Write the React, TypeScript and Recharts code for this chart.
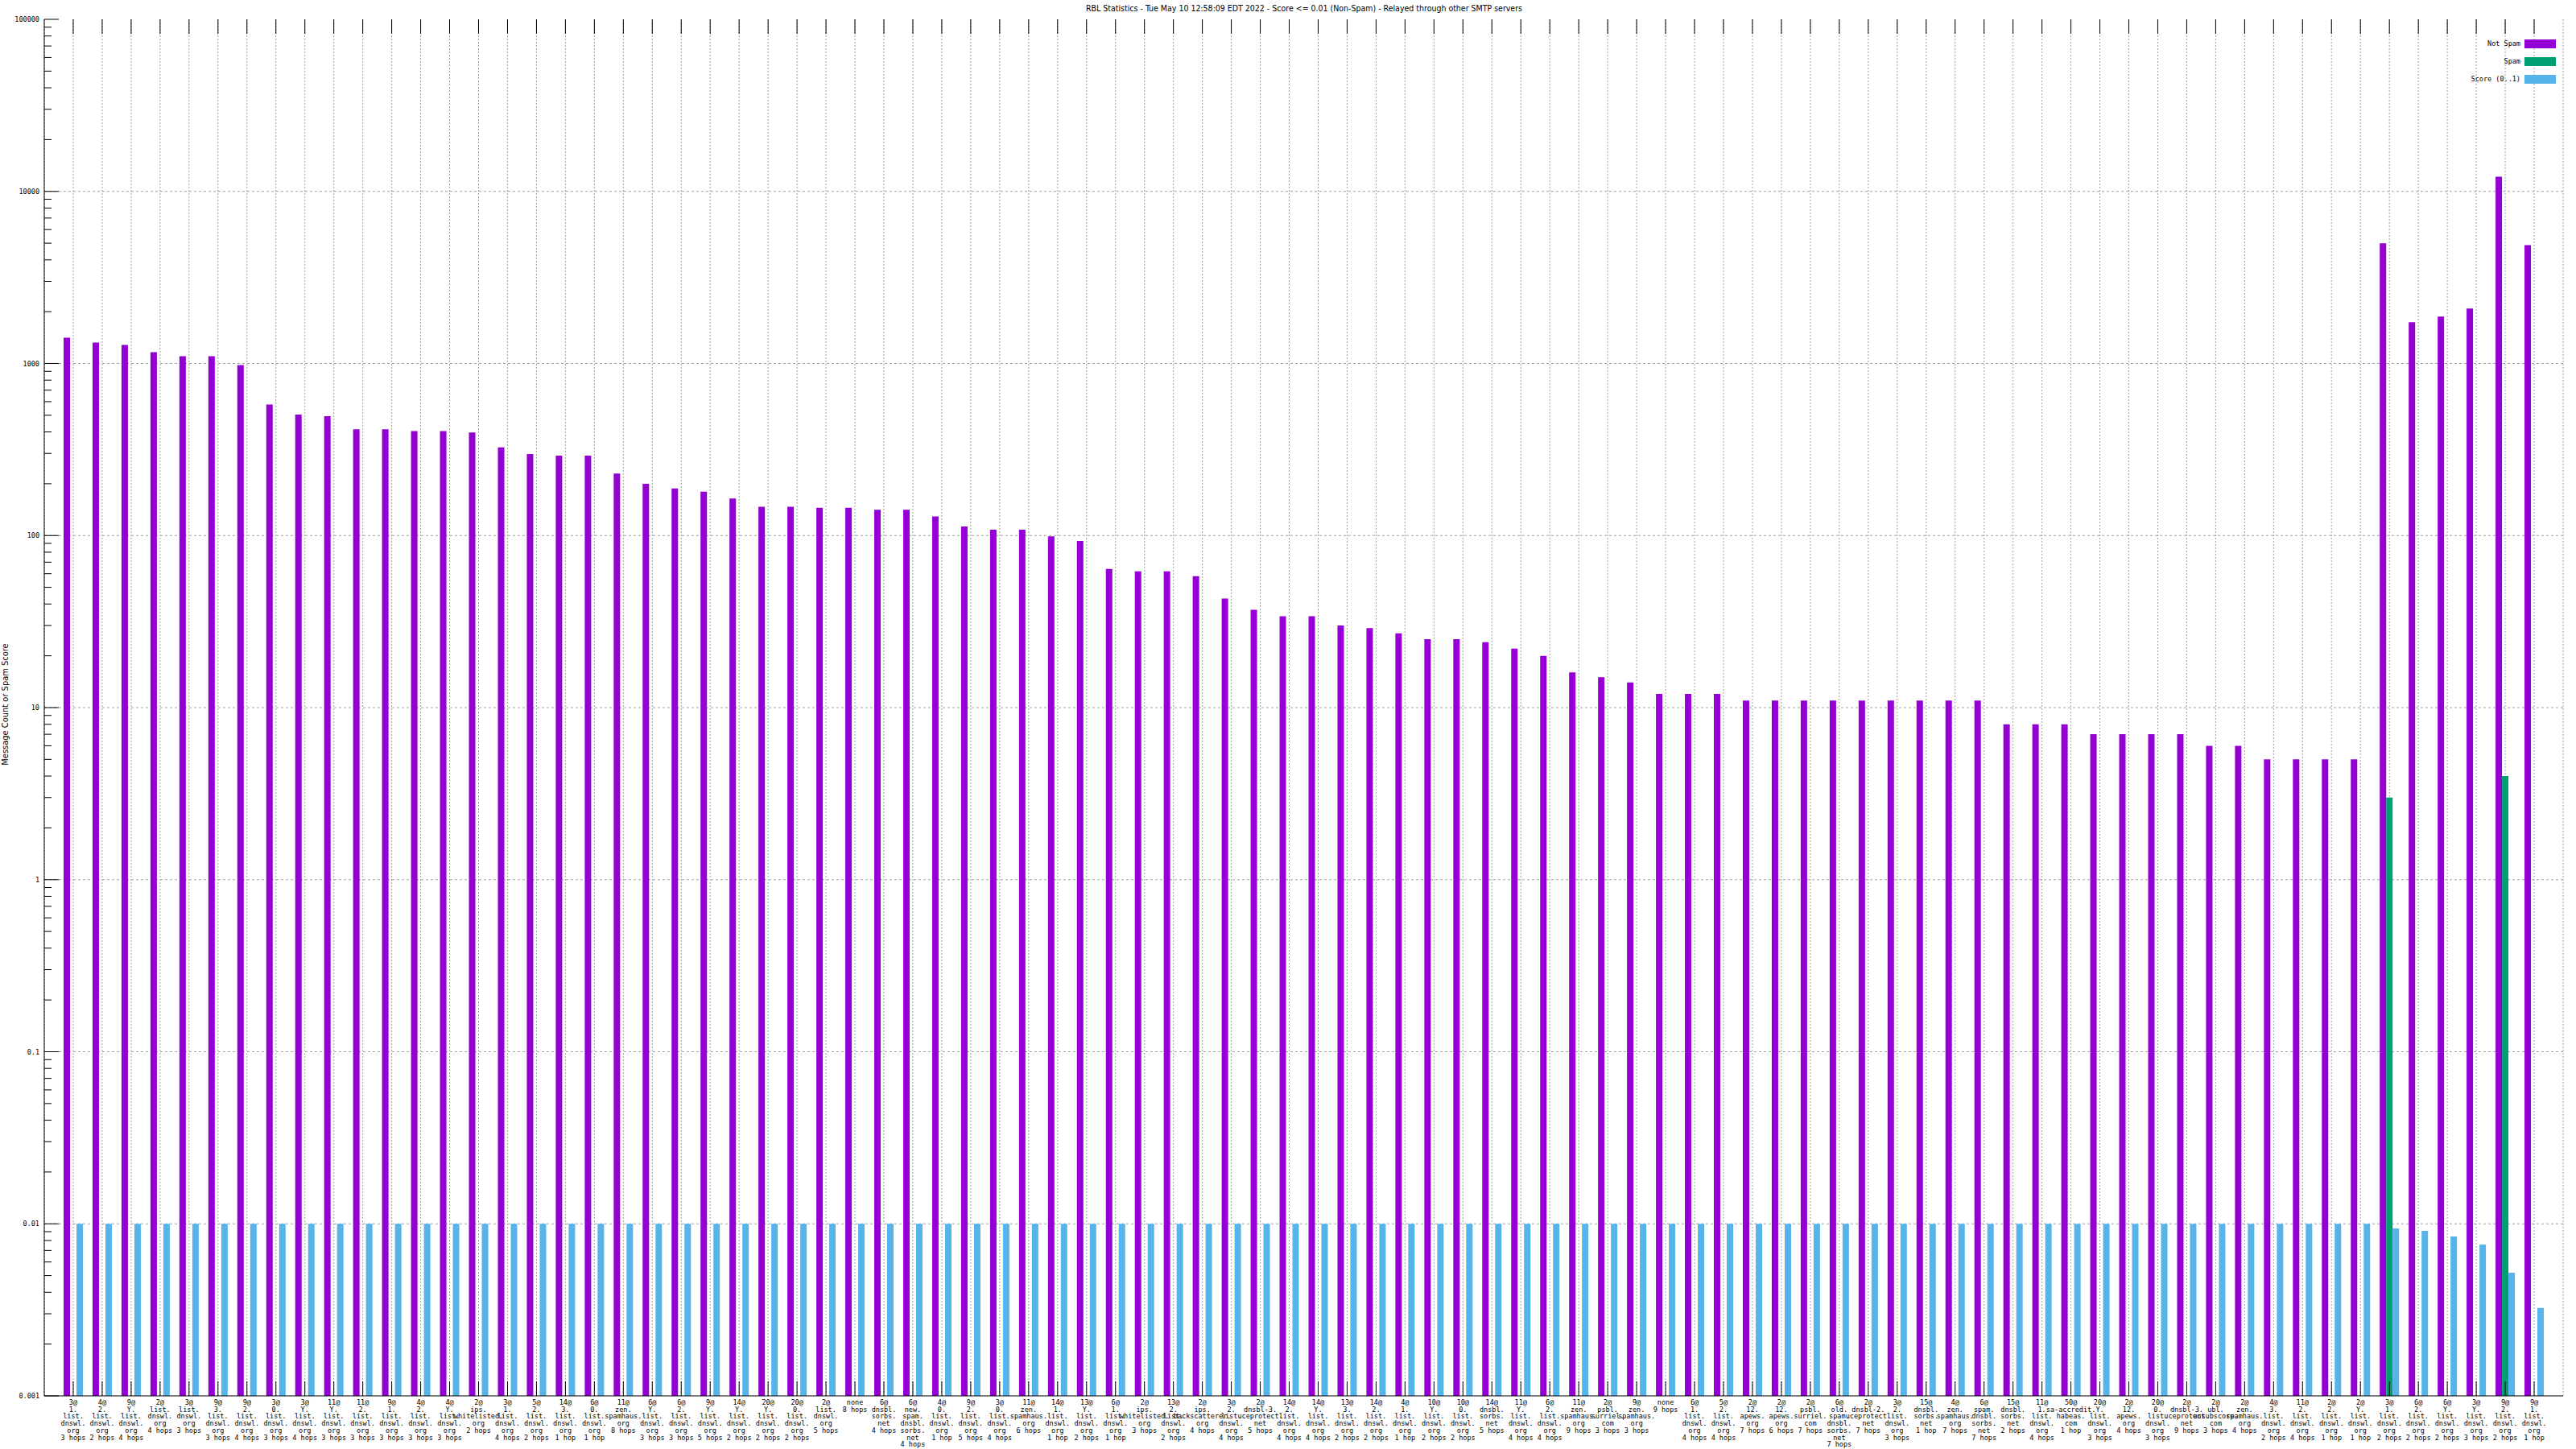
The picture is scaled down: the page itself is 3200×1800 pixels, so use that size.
import { Bar, BarChart, CartesianGrid, XAxis, YAxis, Legend } from 'recharts'

const categories = [
  '3@1.list.dnswl.org 3 hops', '4@2.list.dnswl.org 2 hops', '9@Y.list.dnswl.org 4 hops', '2@list.dnswl.org 4 hops',
  '3@list.dnswl.org 3 hops', '9@3.list.dnswl.org 3 hops', '9@2.list.dnswl.org 4 hops', '3@0.list.dnswl.org 3 hops',
  '3@Y.list.dnswl.org 4 hops', '11@Y.list.dnswl.org 3 hops', '11@2.list.dnswl.org 3 hops', '9@1.list.dnswl.org 3 hops',
  '4@2.list.dnswl.org 3 hops', '4@Y.list.dnswl.org 3 hops', '2@ips.whitelisted.org 2 hops', '3@1.list.dnswl.org 4 hops',
  '5@2.list.dnswl.org 2 hops', '14@3.list.dnswl.org 1 hop', '6@0.list.dnswl.org 1 hop', '11@zen.spamhaus.org 8 hops',
  '6@Y.list.dnswl.org 3 hops', '6@2.list.dnswl.org 3 hops', '9@Y.list.dnswl.org 5 hops', '14@Y.list.dnswl.org 2 hops',
  '20@Y.list.dnswl.org 2 hops', '20@0.list.dnswl.org 2 hops', '2@list.dnswl.org 5 hops', 'none 8 hops',
  '6@dnsbl.sorbs.net 4 hops', '6@new.spam.dnsbl.sorbs.net 4 hops', '4@0.list.dnswl.org 1 hop', '9@2.list.dnswl.org 5 hops',
  '3@0.list.dnswl.org 4 hops', '11@zen.spamhaus.org 6 hops', '14@1.list.dnswl.org 1 hop', '13@Y.list.dnswl.org 2 hops',
  '6@1.list.dnswl.org 1 hop', '2@ips.whitelisted.org 3 hops', '13@2.list.dnswl.org 2 hops', '2@ips.backscatterer.org 4 hops',
  '3@2.list.dnswl.org 4 hops', '2@dnsbl-3.uceprotect.net 5 hops', '14@2.list.dnswl.org 4 hops', '14@Y.list.dnswl.org 4 hops',
  '13@3.list.dnswl.org 2 hops', '14@2.list.dnswl.org 2 hops', '4@1.list.dnswl.org 1 hop', '10@Y.list.dnswl.org 2 hops',
  '10@0.list.dnswl.org 2 hops', '14@dnsbl.sorbs.net 5 hops', '11@Y.list.dnswl.org 4 hops', '6@2.list.dnswl.org 4 hops',
  '11@zen.spamhaus.org 9 hops', '2@psbl.surriel.com 3 hops', '9@zen.spamhaus.org 3 hops', 'none 9 hops',
  '6@1.list.dnswl.org 4 hops', '5@2.list.dnswl.org 4 hops', '2@12.apews.org 7 hops', '2@12.apews.org 6 hops',
  '2@psbl.surriel.com 7 hops', '6@old.spam.dnsbl.sorbs.net 7 hops', '2@dnsbl-2.uceprotect.net 7 hops', '3@2.list.dnswl.org 3 hops',
  '15@dnsbl.sorbs.net 1 hop', '4@zen.spamhaus.org 7 hops', '6@spam.dnsbl.sorbs.net 7 hops', '15@dnsbl.sorbs.net 2 hops',
  '11@1.list.dnswl.org 4 hops', '50@sa-accredit.habeas.com 1 hop', '20@Y.list.dnswl.org 3 hops', '2@12.apews.org 4 hops',
  '20@0.list.dnswl.org 3 hops', '2@dnsbl-3.uceprotect.net 9 hops', '2@ubl.unsubscore.com 3 hops', '2@zen.spamhaus.org 4 hops',
  '4@3.list.dnswl.org 2 hops', '11@2.list.dnswl.org 4 hops', '2@2.list.dnswl.org 1 hop', '2@Y.list.dnswl.org 1 hop',
  '3@1.list.dnswl.org 2 hops', '6@2.list.dnswl.org 2 hops', '6@Y.list.dnswl.org 2 hops', '3@Y.list.dnswl.org 3 hops',
  '9@2.list.dnswl.org 2 hops', '9@1.list.dnswl.org 1 hop',
]

const notSpam = [
  1412, 1324, 1282, 1163, 1102, 1102, 978, 577, 505, 494,
  414, 414, 405, 405, 397, 325, 298, 291, 291, 229,
  200, 188, 180, 164, 147, 147, 145, 145, 141, 141,
  129, 113, 108, 108, 99, 93, 64, 62, 62, 58,
  43, 37, 34, 34, 30, 29, 27, 25, 25, 24,
  22, 20, 16, 15, 14, 12, 12, 12, 11, 11,
  11, 11, 11, 11, 11, 11, 11, 8, 8, 8,
  7, 7, 7, 7, 6, 6, 5, 5, 5, 5,
  4990, 1738, 1871, 2084, 12178, 4877,
]

const spam: (number | null)[] = categories.map(() => null)
spam[80] = 3
spam[84] = 4

const score = [
  ...categories.slice(0, 80).map(() => 0.01),
  0.0094, 0.0091, 0.00845, 0.00758, 0.0052, 0.00324,
]

const series = [
  { key: 'notSpam', name: 'Not Spam', color: '#9400d3' },
  { key: 'spam', name: 'Spam', color: '#009e73' },
  { key: 'score', name: 'Score (0..1)', color: '#56b4e9' },
]

const majorTicks = [0.001, 0.01, 0.1, 1, 10, 100, 1000, 10000, 100000]
const allTicks: number[] = []
majorTicks.forEach((d, i) => {
  allTicks.push(d)
  if (i < majorTicks.length - 1) {
    for (let m = 2; m <= 9; m++) allTicks.push(parseFloat((m * d).toPrecision(3)))
  }
})

const data = categories.map((label, i) => ({
  label,
  notSpam: notSpam[i],
  spam: spam[i],
  score: score[i],
}))

const W = 3200
const H = 1800
const PLOT_LEFT = 55
const PLOT_RIGHT = 3184
const PLOT_TOP = 24
const PLOT_BOTTOM = 1734
const MONO = "'DejaVu Sans Mono', monospace"
const NARROW = "'DejaVu Sans Condensed', 'Liberation Sans Narrow', 'DejaVu Sans', sans-serif"

const isMajor = (v: number) => majorTicks.includes(v)

const LeftTick = ({ y, payload }: any) => {
  const major = isMajor(payload.value)
  return (
    <g>
      <line x1={PLOT_LEFT} x2={PLOT_LEFT + (major ? 18 : 9)} y1={y} y2={y} stroke="#000" />
      {major && (
        <text x={PLOT_LEFT - 6} y={y} dy={3} textAnchor="end" fontSize={8.5} fontFamily={MONO} fill="#000">
          {String(payload.value)}
        </text>
      )}
    </g>
  )
}

const RightTick = ({ y, payload }: any) => {
  const major = isMajor(payload.value)
  return <line x1={PLOT_RIGHT} x2={PLOT_RIGHT - (major ? 18 : 9)} y1={y} y2={y} stroke="#000" />
}

const BottomTick = ({ x, payload }: any) => {
  const lines = String(payload.value).replace(/@/g, '@\n').replace(/\./g, '.\n').replace(' ', '\n').split('\n')
  return (
    <g>
      <line x1={x} x2={x} y1={PLOT_BOTTOM} y2={PLOT_BOTTOM - 18} stroke="#000" />
      <line x1={x} x2={x} y1={PLOT_TOP} y2={PLOT_TOP + 18} stroke="#000" />
      <text x={x} y={PLOT_BOTTOM + 11} textAnchor="middle" fontSize={8.5} fontFamily={MONO} fill="#000">
        {lines.map((l, i) => (
          <tspan key={i} x={x} dy={i === 0 ? 0 : 8.7}>{l}</tspan>
        ))}
      </text>
    </g>
  )
}

const renderLegend = () => (
  <div style={{ fontFamily: MONO, fontSize: 8.5, color: '#000' }}>
    {series.map((s) => (
      <div key={s.key} style={{ display: 'flex', justifyContent: 'flex-end', alignItems: 'center', height: 22 }}>
        <span>{s.name}</span>
        <span style={{ display: 'inline-block', width: 39, height: 11, background: s.color, marginLeft: 5 }} />
      </div>
    ))}
  </div>
)

export default function App() {
  return (
    <div style={{ position: 'absolute', left: 0, top: 0, width: W, height: H, background: '#fff' }}>
      <div style={{ position: 'absolute', left: 0, width: 3240, top: 4, textAlign: 'center', fontFamily: NARROW, fontSize: 10.5 }}>
        RBL Statistics - Tue May 10 12:58:09 EDT 2022 - Score &lt;= 0.01 (Non-Spam) - Relayed through other SMTP servers
      </div>
      <div
        style={{
          position: 'absolute', left: 7, top: 875, width: 300, marginLeft: -150, marginTop: -7,
          textAlign: 'center', fontFamily: NARROW, fontSize: 11, lineHeight: '14px', transform: 'rotate(-90deg)',
        }}
      >
        Message Count or Spam Score
      </div>
      <BarChart
        width={W}
        height={H}
        data={data}
        margin={{ top: PLOT_TOP, right: W - PLOT_RIGHT, bottom: 0, left: 0 }}
        barGap={0}
        barSize={8}
      >
        <CartesianGrid yAxisId="left" vertical={false} horizontalValues={[0.01, 0.1, 1, 10, 100, 1000, 10000]} stroke="#a0a0a0" strokeDasharray="3 3" />
        <CartesianGrid yAxisId="left" horizontal={false} stroke="#a0a0a0" strokeDasharray="2 2" />
        <XAxis
          dataKey="label"
          interval={0}
          height={H - PLOT_BOTTOM}
          padding={{ left: 18, right: 18 }}
          tickLine={false}
          axisLine={{ stroke: '#000' }}
          tick={<BottomTick />}
        />
        <XAxis xAxisId="top" dataKey="label" orientation="top" height={0} padding={{ left: 18, right: 18 }} tick={false} tickLine={false} axisLine={{ stroke: '#000' }} />
        <YAxis
          yAxisId="left"
          scale="log"
          domain={[0.001, 100000]}
          allowDataOverflow
          ticks={allTicks}
          interval={0}
          width={PLOT_LEFT}
          tickLine={false}
          axisLine={{ stroke: '#000' }}
          tick={<LeftTick />}
        />
        <YAxis
          yAxisId="right"
          orientation="right"
          scale="log"
          domain={[0.001, 100000]}
          allowDataOverflow
          ticks={allTicks}
          interval={0}
          width={0}
          tickLine={false}
          axisLine={{ stroke: '#000' }}
          tick={<RightTick />}
        />
        <Legend
          layout="horizontal"
          verticalAlign="middle"
          content={renderLegend}
          wrapperStyle={{ top: 43, left: 2950, width: 225, height: 66 }}
        />
        {series.map((s) => (
          <Bar key={s.key} yAxisId="left" dataKey={s.key} name={s.name} fill={s.color} isAnimationActive={false} />
        ))}
      </BarChart>
    </div>
  )
}
